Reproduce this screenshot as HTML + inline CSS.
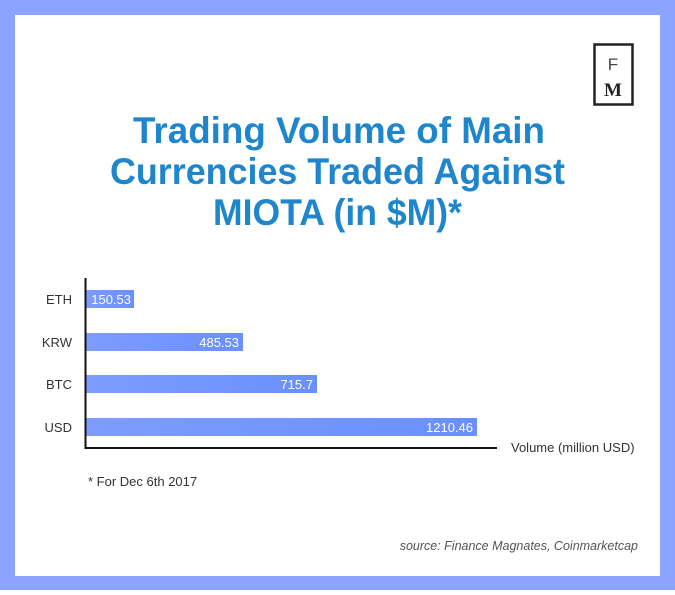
<!DOCTYPE html>
<html><head><meta charset="utf-8"><style>
html,body{margin:0;padding:0;}
body{width:675px;height:590px;overflow:hidden;background:#fff;}
</style></head><body>
<svg width="675" height="590" viewBox="0 0 675 590" xmlns="http://www.w3.org/2000/svg" font-family="Liberation Sans, sans-serif">
<defs>
<linearGradient id="g" x1="0" x2="1" y1="0" y2="0"><stop offset="0" stop-color="#7c9cff"/><stop offset="1" stop-color="#6a90ff"/></linearGradient>
</defs>
<rect x="0" y="0" width="675" height="590" fill="#8aa4ff"/>
<rect x="15" y="15" width="645" height="561" fill="#fff"/>
<!-- logo -->
<rect x="594.5" y="44.5" width="38" height="60" fill="none" stroke="#222" stroke-width="2.5"/>
<text x="613" y="70" font-size="17" fill="#444" text-anchor="middle">F</text>
<text x="613" y="96" font-size="19" font-weight="bold" font-family="Liberation Serif, serif" fill="#222" text-anchor="middle">M</text>
<!-- title -->
<g fill="#1f86cc" font-weight="bold" font-size="37">
<text x="133" y="143" textLength="412" lengthAdjust="spacingAndGlyphs">Trading Volume of Main</text>
<text x="110" y="184" textLength="455" lengthAdjust="spacingAndGlyphs">Currencies Traded Against</text>
<text x="213" y="225" textLength="249" lengthAdjust="spacingAndGlyphs">MIOTA (in $M)*</text>
</g>
<!-- bars -->
<rect x="86" y="290" width="48" height="18" fill="url(#g)"/>
<rect x="86" y="333" width="157" height="18" fill="url(#g)"/>
<rect x="86" y="375" width="231" height="18" fill="url(#g)"/>
<rect x="86" y="418" width="391" height="18" fill="url(#g)"/>
<g fill="#fff" font-size="13" text-anchor="end">
<text x="131" y="304">150.53</text>
<text x="239" y="347">485.53</text>
<text x="313" y="389">715.7</text>
<text x="473" y="432">1210.46</text>
</g>
<g fill="#333" font-size="13" text-anchor="end">
<text x="72" y="304">ETH</text>
<text x="72" y="347">KRW</text>
<text x="72" y="389">BTC</text>
<text x="72" y="432">USD</text>
</g>
<line x1="85.5" y1="278" x2="85.5" y2="449" stroke="#111" stroke-width="2"/>
<line x1="85" y1="448" x2="497" y2="448" stroke="#111" stroke-width="2"/>
<text x="511" y="452" font-size="13" fill="#333">Volume (million USD)</text>
<text x="88" y="486" font-size="13" fill="#333">* For Dec 6th 2017</text>
<text x="638" y="550" font-size="12.5" fill="#555" font-style="italic" text-anchor="end">source: Finance Magnates, Coinmarketcap</text>
</svg>
</body></html>
